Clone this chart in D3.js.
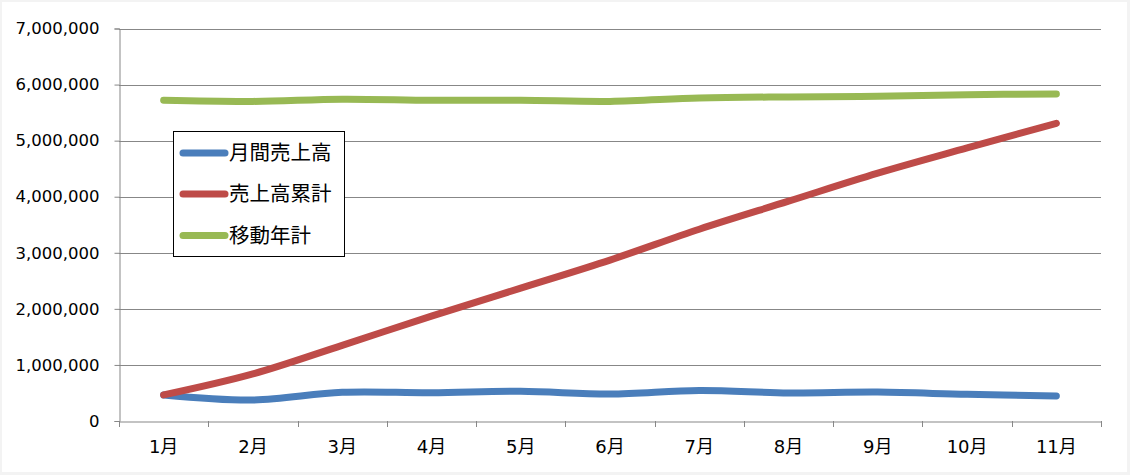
<!DOCTYPE html>
<html><head><meta charset="utf-8">
<script src="https://cdn.jsdelivr.net/npm/d3@7"></script>
<style>
html,body{margin:0;padding:0;background:#f3f3f3;}
svg{display:block;}
</style></head>
<body><svg id="c" width="1130" height="475"></svg>
<script>
const months = ["1月","2月","3月","4月","5月","6月","7月","8月","9月","10月","11月"];
const monthlySales = [465000, 375000, 512000, 504000, 530000, 480000, 545000, 500000, 515000, 475000, 445000];
const cumulativeSales = [465000, 840000, 1350000, 1870000, 2370000, 2870000, 3420000, 3920000, 4420000, 4870000, 5310000];
const movingAnnual = [5720000, 5700000, 5740000, 5720000, 5720000, 5700000, 5760000, 5780000, 5790000, 5820000, 5830000];
const seriesNames = ["月間売上高","売上高累計","移動年計"];
const yTicks = [0,1000000,2000000,3000000,4000000,5000000,6000000,7000000];
const colors = ["#4a7ebb","#be4b48","#98b954"];

(function(){
const svg = d3.select("#c");
svg.append("rect").attr("x",2).attr("y",2).attr("width",1125).attr("height",470).attr("fill","#fff");

const pl=119, pr=1101, pt=28.5, pb=421;
const x = d3.scaleBand().domain(months).range([pl,pr]);
const y = d3.scaleLinear().domain([0,7000000]).range([pb,pt]);
const font = "'DejaVu Sans','Noto Sans CJK JP',sans-serif";
const gridColor = "#878787";

svg.append("g").selectAll("line").data(yTicks.slice(1)).join("line")
  .attr("x1",pl).attr("x2",pr)
  .attr("y1",d=>Math.round(y(d))+0.5).attr("y2",d=>Math.round(y(d))+0.5)
  .attr("stroke",gridColor).attr("stroke-width",1);

const yAxis = svg.append("g").attr("transform",`translate(${pl+0.5},0)`)
  .call(d3.axisLeft(y).tickValues(yTicks).tickFormat(d3.format(",")).tickSize(5).tickPadding(15));
yAxis.select(".domain").attr("stroke",gridColor);
yAxis.selectAll(".tick line").attr("stroke",gridColor);
yAxis.selectAll("text").attr("font-family",font).attr("font-size",16.5).attr("fill","#000");

const xAxis = svg.append("g").attr("transform",`translate(0,${Math.round(pb)+0.5})`)
  .call(d3.axisBottom(x).tickSize(0).tickPadding(19));
xAxis.select(".domain").attr("stroke",gridColor);
xAxis.selectAll("text").attr("font-family",font).attr("font-size",18).attr("fill","#000");
const bounds = months.map(m=>x(m)).concat([pr]);
svg.append("g").selectAll("line").data(bounds).join("line")
  .attr("x1",d=>Math.round(d)+0.5).attr("x2",d=>Math.round(d)+0.5)
  .attr("y1",Math.round(pb)).attr("y2",Math.round(pb)+6)
  .attr("stroke",gridColor);

const allSeries = [monthlySales, cumulativeSales, movingAnnual];
const line = d3.line().x((d,i)=>x(months[i])+x.bandwidth()/2).y(d=>y(d))
  .curve(d3.curveCatmullRom.alpha(0.5));
allSeries.forEach((s,i)=>{
  svg.append("path").datum(s).attr("d",line).attr("fill","none")
    .attr("stroke",colors[i]).attr("stroke-width",7)
    .attr("stroke-linecap","round").attr("stroke-linejoin","round");
});

const lg = svg.append("g");
lg.append("rect").attr("x",173.5).attr("y",131.5).attr("width",171).attr("height",125)
  .attr("fill","#fff").attr("stroke","#000").attr("stroke-width",1);
const rowsY = [153, 194, 235.5];
seriesNames.forEach((n,i)=>{
  lg.append("line").attr("x1",183).attr("x2",225).attr("y1",rowsY[i]).attr("y2",rowsY[i])
    .attr("stroke",colors[i]).attr("stroke-width",7).attr("stroke-linecap","round");
  lg.append("text").attr("x",229).attr("y",rowsY[i]).attr("dy","0.36em")
    .attr("font-family","'Noto Sans CJK JP',sans-serif").attr("font-size",20.5).attr("fill","#000").text(n);
});
})();
</script></body></html>
